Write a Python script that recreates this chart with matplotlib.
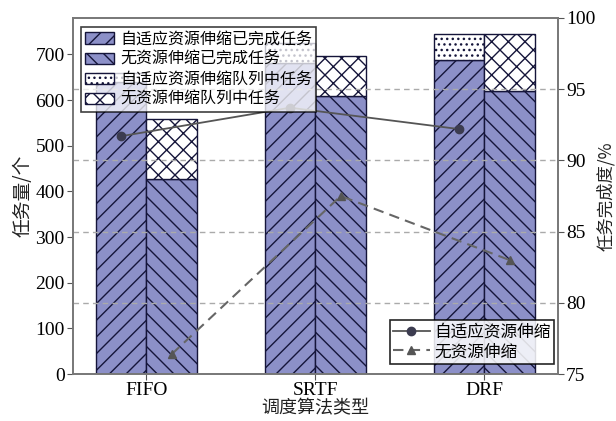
import numpy as np
import matplotlib
matplotlib.use("Agg")
import matplotlib.pyplot as plt

plt.rcParams['font.family'] = ['Liberation Serif', 'Noto Sans CJK SC', 'DejaVu Sans']
plt.rcParams['hatch.linewidth'] = 1.0

# Data
algorithms = ["FIFO", "SRTF", "DRF"]
adaptive_done = [640, 681, 688]
adaptive_queue = [20, 44, 57]
static_done = [427, 610, 620]
static_queue = [131, 86, 125]
adaptive_rate = [91.7, 93.7, 92.2]
static_rate = [76.4, 87.5, 83.0]

bar_color = "#8c90c8"
edge = "#15153a"
cjk = ['Noto Sans CJK SC', 'DejaVu Sans']

fig = plt.figure(figsize=(6.16, 4.21), dpi=100)
ax = fig.add_axes([0.1185, 0.1116, 0.787, 0.8457])
ax2 = ax.twinx()

x = np.arange(len(algorithms))
w = 0.3

b1 = ax.bar(x - w/2, adaptive_done, w, color=bar_color, edgecolor=edge, hatch='//', lw=1.0,
            label="自适应资源伸缩已完成任务", zorder=2)
b2 = ax.bar(x + w/2, static_done, w, color=bar_color, edgecolor=edge, hatch='\\\\', lw=1.0,
            label="无资源伸缩已完成任务", zorder=2)
b3 = ax.bar(x - w/2, adaptive_queue, w, bottom=adaptive_done, color='white', edgecolor=edge,
            hatch='...', lw=1.0, label="自适应资源伸缩队列中任务", zorder=2)
b4 = ax.bar(x + w/2, static_queue, w, bottom=static_done, color='white', edgecolor=edge,
            hatch='xx', lw=1.0, label="无资源伸缩队列中任务", zorder=2)

ax.set_xlim(-0.435, 2.435)
ax.set_ylim(0, 780)
ax.set_yticks(range(0, 701, 100))
ax.set_xticks(x)
ax.set_xticklabels(algorithms, fontsize=14)
ax.tick_params(axis='y', labelsize=14, direction='out', length=4, color='#555555', pad=2)
ax.tick_params(axis='x', labelsize=14, direction='out', length=4, color='#555555', pad=2)
ax.set_xlabel("调度算法类型", fontsize=13, family=cjk, color='#222222', labelpad=0)
ax.set_ylabel("任务量/个", fontsize=13.5, family=cjk, color='#222222', labelpad=1)

ax2.set_ylim(75, 100)
ax2.set_yticks(range(75, 101, 5))
ax2.tick_params(axis='y', labelsize=14, direction='out', length=4, color='#555555', pad=2)
ax2.set_ylabel("任务完成度/%", fontsize=12.5, family=cjk, color='#222222')
ax2.yaxis.set_label_coords(1.08, 0.5)
for y in [80, 85, 90, 95]:
    ax2.axhline(y, color='#aaaaaa', ls=(0, (4, 3)), lw=1.0, zorder=1)

l1, = ax2.plot(x - w/2, adaptive_rate, color='#555555', lw=1.3, marker='o', ms=6,
               markerfacecolor='#3c3c50', markeredgecolor='#3c3c50', label="自适应资源伸缩", zorder=3)
l2, = ax2.plot(x + w/2, static_rate, color='#666666', lw=1.5, ls=(0, (5, 3)), marker='^', ms=6,
               markerfacecolor='#555555', markeredgecolor='#555555', label="无资源伸缩", zorder=3)

for a in (ax, ax2):
    for s in a.spines.values():
        s.set_color('#777777')
        s.set_linewidth(1.2)

ax.set_zorder(1)
ax2.set_zorder(2)
ax2.patch.set_visible(False)

leg1 = ax2.legend(handles=[b1, b2, b3, b4], loc='upper left', bbox_to_anchor=(0.01, 0.985),
                  prop={'family': cjk, 'size': 11.5}, frameon=True, fancybox=False,
                  edgecolor='black', framealpha=0.75, borderpad=0.25, labelspacing=0.2,
                  handlelength=1.8, handletextpad=0.4, borderaxespad=0.2)
leg1.get_frame().set_linewidth(1.2)
ax2.add_artist(leg1)
leg2 = ax2.legend(handles=[l1, l2], loc='lower right', bbox_to_anchor=(1.0, 0.02),
                  prop={'family': cjk, 'size': 12}, frameon=True, fancybox=False,
                  edgecolor='black', framealpha=0.85, borderpad=0.2, labelspacing=0.15,
                  handlelength=2.2, handletextpad=0.3, borderaxespad=0.2)
leg2.get_frame().set_linewidth(1.2)

fig.savefig("out.png", dpi=100)
